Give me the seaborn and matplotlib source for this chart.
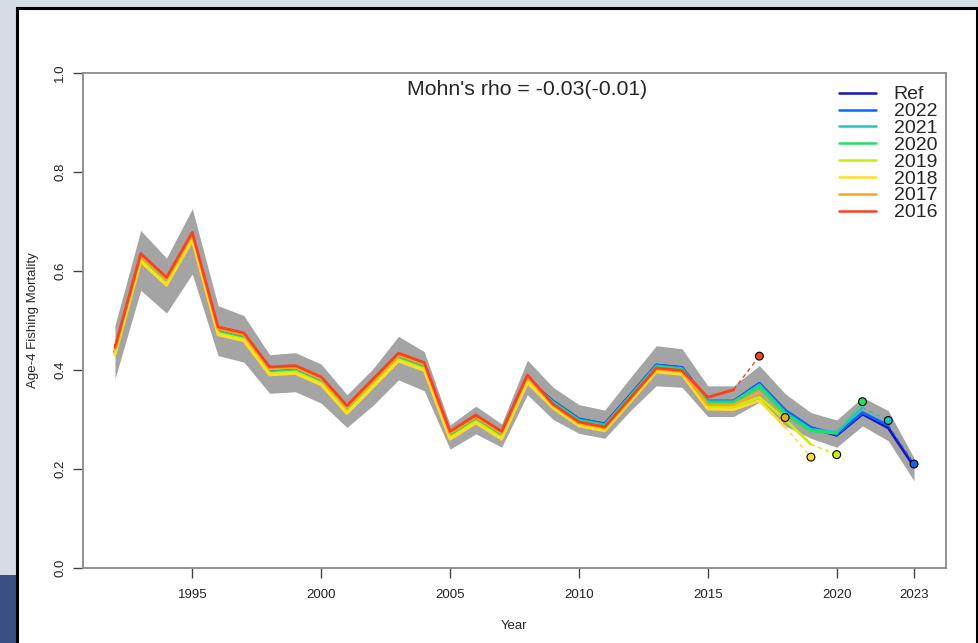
import pandas as pd
import seaborn as sns
from matplotlib import pyplot as plt
from matplotlib.lines import Line2D
from matplotlib.patches import Rectangle

years = list(range(1992, 2024))

# reference run (all years)
f_ref = [0.437, 0.626, 0.578, 0.669, 0.478, 0.466, 0.397, 0.400, 0.377, 0.319, 0.372,
         0.425, 0.406, 0.267, 0.300, 0.267, 0.381, 0.337, 0.301, 0.291, 0.350, 0.410,
         0.405, 0.337, 0.337, 0.373, 0.318, 0.283, 0.268, 0.311, 0.283, 0.205]

# confidence band of the reference run
ci_lower = [0.382, 0.561, 0.515, 0.594, 0.429, 0.416, 0.353, 0.356, 0.333, 0.284, 0.328,
            0.380, 0.358, 0.240, 0.271, 0.244, 0.350, 0.300, 0.272, 0.262, 0.318, 0.368,
            0.365, 0.306, 0.306, 0.335, 0.287, 0.262, 0.244, 0.287, 0.257, 0.176]
ci_upper = [0.490, 0.682, 0.626, 0.726, 0.530, 0.510, 0.431, 0.435, 0.412, 0.350, 0.402,
            0.468, 0.437, 0.289, 0.327, 0.291, 0.420, 0.365, 0.330, 0.319, 0.385, 0.449,
            0.443, 0.368, 0.368, 0.409, 0.352, 0.314, 0.299, 0.345, 0.318, 0.222]

# retrospective peels
f_2022 = [0.437, 0.626, 0.578, 0.669, 0.478, 0.466, 0.397, 0.400, 0.377, 0.319, 0.372,
          0.425, 0.406, 0.267, 0.300, 0.267, 0.381, 0.337, 0.301, 0.291, 0.350, 0.410,
          0.405, 0.337, 0.337, 0.373, 0.319, 0.284, 0.270, 0.314, 0.288]
f_2021 = [0.436, 0.625, 0.577, 0.668, 0.477, 0.465, 0.396, 0.399, 0.376, 0.318, 0.371,
          0.424, 0.405, 0.266, 0.299, 0.266, 0.380, 0.335, 0.299, 0.289, 0.348, 0.408,
          0.403, 0.336, 0.336, 0.370, 0.314, 0.280, 0.274, 0.324]
f_2020 = [0.435, 0.624, 0.576, 0.667, 0.476, 0.464, 0.395, 0.398, 0.375, 0.317, 0.370,
          0.423, 0.404, 0.265, 0.298, 0.265, 0.379, 0.333, 0.297, 0.287, 0.346, 0.406,
          0.401, 0.334, 0.334, 0.366, 0.311, 0.277, 0.272]
f_2019 = [0.433, 0.622, 0.574, 0.665, 0.474, 0.462, 0.393, 0.396, 0.373, 0.315, 0.368,
          0.421, 0.402, 0.263, 0.296, 0.263, 0.377, 0.327, 0.291, 0.281, 0.340, 0.400,
          0.395, 0.326, 0.326, 0.345, 0.300, 0.250]
f_2018 = [0.430, 0.619, 0.571, 0.662, 0.471, 0.459, 0.390, 0.393, 0.370, 0.312, 0.365,
          0.418, 0.399, 0.260, 0.293, 0.260, 0.374, 0.323, 0.287, 0.277, 0.336, 0.396,
          0.391, 0.321, 0.320, 0.338, 0.285]
f_2017 = [0.442, 0.631, 0.583, 0.674, 0.483, 0.471, 0.402, 0.405, 0.382, 0.324, 0.377,
          0.430, 0.411, 0.272, 0.305, 0.272, 0.386, 0.329, 0.293, 0.283, 0.342, 0.402,
          0.397, 0.330, 0.330, 0.355]
f_2016 = [0.446, 0.635, 0.587, 0.678, 0.487, 0.475, 0.406, 0.409, 0.386, 0.328, 0.381,
          0.434, 0.415, 0.276, 0.309, 0.276, 0.390, 0.331, 0.295, 0.285, 0.344, 0.404,
          0.399, 0.345, 0.360]

# point for the year after each peel's terminal year
proj_f = {"2022": 0.210, "2021": 0.298, "2020": 0.336, "2019": 0.229,
          "2018": 0.224, "2017": 0.304, "2016": 0.428}

run_names = ["Ref", "2022", "2021", "2020", "2019", "2018", "2017", "2016"]
run_values = [f_ref, f_2022, f_2021, f_2020, f_2019, f_2018, f_2017, f_2016]
run_colors = ["#1414b8", "#0a64ff", "#20c4c0", "#22e060", "#ccee00",
              "#ffdc28", "#ffa41e", "#ff3e1e"]
palette = dict(zip(run_names, run_colors))

rows = []
for name, vals in zip(run_names, run_values):
    for yr, v in zip(years, vals):
        rows.append({"Year": yr, "F": v, "Run": name})
df = pd.DataFrame(rows)

sns.set_style("ticks")
plt.rcParams["font.family"] = ["Liberation Sans", "DejaVu Sans"]

fig = plt.figure(figsize=(9.79, 6.43), dpi=100)
fig.patch.set_facecolor("#d5dce4")
fig.add_artist(Rectangle((0, 0), 17 / 979, 68 / 643, transform=fig.transFigure,
                         facecolor="#3a5083", edgecolor="none", zorder=-3))
fig.add_artist(Rectangle((17 / 979, -0.05), 960 / 979, 635 / 643 + 0.05,
                         transform=fig.transFigure, facecolor="white",
                         edgecolor="black", lw=2.2, zorder=-2))

ax = fig.add_axes([83 / 979, 75 / 643, 863 / 979, 495 / 643])

ax.fill_between(years, ci_lower, ci_upper, color="#a4a4a4", lw=0, zorder=1)

sns.lineplot(data=df, x="Year", y="F", hue="Run", hue_order=run_names,
             palette=palette, linewidth=2.0, legend=False, ax=ax, zorder=2)

# dashed step to next-year value and point
for name, vals in zip(run_names[1:], run_values[1:]):
    last_year = years[len(vals) - 1]
    ax.plot([last_year, last_year + 1], [vals[-1], proj_f[name]],
            ls=(0, (3, 2.5)), lw=1.0, color=palette[name], zorder=3)

proj_df = pd.DataFrame({
    "Year": [int(n) + 1 for n in proj_f],
    "F": list(proj_f.values()),
    "Run": list(proj_f.keys()),
})
sns.scatterplot(data=proj_df, x="Year", y="F", hue="Run", palette=palette,
                s=32, edgecolor="black", linewidth=0.8, legend=False, ax=ax, zorder=4)

ax.set_xlim(1990.76, 2024.24)
ax.set_ylim(0, 1.0)
ax.set_xticks([1995, 2000, 2005, 2010, 2015, 2020, 2023])
ax.set_yticks([0.0, 0.2, 0.4, 0.6, 0.8, 1.0])
ax.set_yticklabels(["0.0", "0.2", "0.4", "0.6", "0.8", "1.0"], rotation=90, va="center")
ax.tick_params(axis="both", length=7, width=1, color="#444444", labelsize=9.5,
               labelcolor="#222222")
ax.tick_params(axis="y", pad=5)
ax.tick_params(axis="x", pad=8)
for sp in ax.spines.values():
    sp.set_visible(True)
    sp.set_color("#8a8a8a")
    sp.set_linewidth(1.3)

ax.set_xlabel("Year", fontsize=9.5, labelpad=14)
ax.set_ylabel("Age-4 Fishing Mortality", fontsize=9.5, labelpad=11)

ax.text(0.5145, 0.9556, "Mohn's rho = -0.03(-0.01)", transform=ax.transAxes,
        ha="center", va="baseline", fontsize=15.3)

handles = [Line2D([0], [0], color=palette[n], lw=1.8) for n in run_names]
ax.legend(handles, run_names, loc="upper right", bbox_to_anchor=(0.99, 0.974),
          frameon=False, fontsize=14, labelspacing=-0.04, handlelength=1.9,
          handletextpad=0.9, borderpad=0, borderaxespad=0)

fig.savefig("out.png", dpi=100)
